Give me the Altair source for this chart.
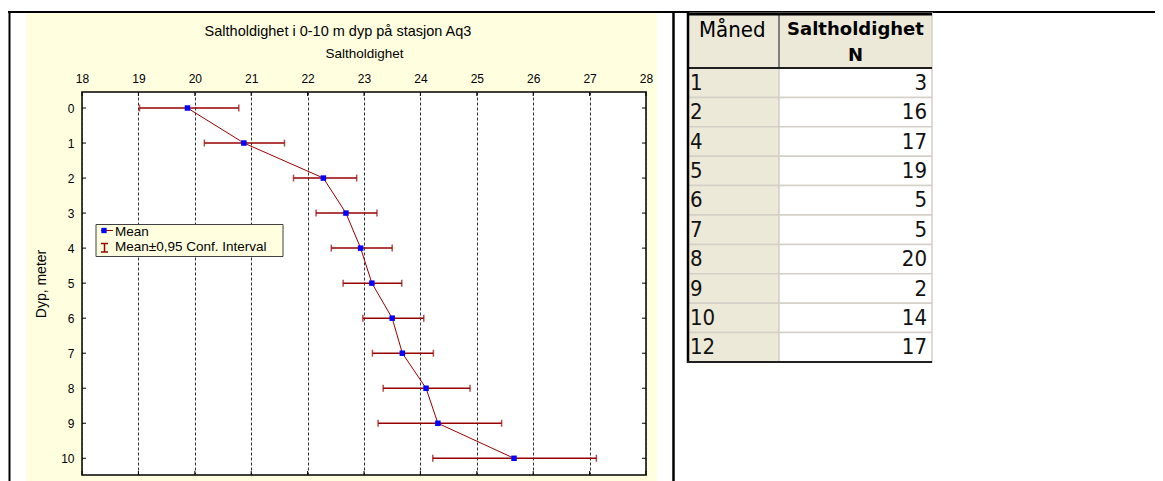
import altair as alt
import pandas as pd

# ---------------- data ----------------
depth = [0, 1, 2, 3, 4, 5, 6, 7, 8, 9, 10]
mean_salt = [19.87, 20.87, 22.28, 22.68, 22.94, 23.14, 23.50, 23.68, 24.10, 24.31, 25.66]
ci_low = [19.02, 20.17, 21.75, 22.15, 22.42, 22.63, 22.98, 23.15, 23.34, 23.25, 24.22]
ci_high = [20.78, 21.59, 22.87, 23.23, 23.50, 23.67, 24.06, 24.23, 24.88, 25.44, 27.12]
x_ticks = [18, 19, 20, 21, 22, 23, 24, 25, 26, 27, 28]
y_ticks = [0, 1, 2, 3, 4, 5, 6, 7, 8, 9, 10]
months = [1, 2, 4, 5, 6, 7, 8, 9, 10, 12]
n_obs = [3, 16, 17, 19, 5, 5, 20, 2, 14, 17]
chart_title = "Saltholdighet i 0-10 m dyp på stasjon Aq3"
x_title = "Saltholdighet"
y_title = "Dyp, meter"
legend_labels = ["Mean", "Mean±0,95 Conf. Interval"]
table_headers = ["Måned", "Saltholdighet", "N"]

# ---------------- style / layout ----------------
W, H = 564, 383
PANEL = "#FFFFE0"
RED = "#990000"
BLUE = "#0000FF"
FONT = "Liberation Sans"
TFONT = "Liberation Sans Narrow, DejaVu Sans Condensed, Liberation Sans"
BEIGE = "#ECE9D8"

df = pd.DataFrame({"depth": depth, "mean": mean_salt, "lo": ci_low, "hi": ci_high})
tab = pd.DataFrame({"month": months, "n": n_obs})
tab["r"] = range(len(tab))
tab["r1"] = tab["r"] + 1
tab["rm"] = tab["r"] + 0.5
one = pd.DataFrame({"k": [0]})


def box(x1, x2, y1, y2, fill, stroke="#000000", sw=0):
    return alt.Chart(one).mark_rect(fill=fill, stroke=stroke, strokeWidth=sw, clip=False).encode(
        x=alt.value(x1), x2=alt.value(x2), y=alt.value(y1), y2=alt.value(y2))


def hline(x1, x2, y, color, w):
    return alt.Chart(one).mark_rule(color=color, strokeWidth=w, clip=False).encode(
        x=alt.value(x1), x2=alt.value(x2), y=alt.value(y))


def vline(x, y1, y2, color, w):
    return alt.Chart(one).mark_rule(color=color, strokeWidth=w, clip=False).encode(
        x=alt.value(x), y=alt.value(y1), y2=alt.value(y2))


def label(txt, x, y, size, font=FONT, align="left", weight="normal", baseline="middle"):
    return alt.Chart(one).mark_text(text=txt, font=font, fontSize=size, align=align,
                                    baseline=baseline, fontWeight=weight, color="black",
                                    clip=False).encode(x=alt.value(x), y=alt.value(y))


xs = alt.Scale(domain=[18, 28], nice=False, zero=False)
ys = alt.Scale(domain=[-0.457, 10.477], nice=False, zero=False, reverse=True)

x_axis = alt.Axis(orient="top", values=x_ticks, tickCount=11, format="d", title=x_title,
                  grid=True, gridDash=[3, 2],
                  gridColor="#303030", gridWidth=1, gridOpacity=1, ticks=False, domain=False,
                  labelFont=FONT, labelFontSize=12, labelColor="black", labelPadding=7,
                  labelFlush=False, labelOverlap=False,
                  titleFont=FONT, titleFontSize=13.5, titleFontWeight="normal",
                  titleColor="black", titlePadding=12)
y_axis = alt.Axis(orient="left", values=y_ticks, tickCount=11, format="d", title=y_title,
                  grid=False, ticks=False,
                  domain=False, labelFont=FONT, labelFontSize=12, labelColor="black",
                  labelPadding=8, labelFlush=False, labelOverlap=False,
                  titleFont=FONT, titleFontSize=14, titleFontWeight="normal",
                  titleColor="black", titlePadding=12)


def X(field):
    return alt.X(field, type="quantitative", scale=xs, axis=x_axis)


def Y(field):
    return alt.Y(field, type="quantitative", scale=ys, axis=y_axis)


# masks (white around the light-yellow panel) and page borders
masks = [
    box(-74, 1081, -84, -79, "white"),
    box(-74, -56, -84, 395, "white"),
    box(575, 1081, -84, 395, "white"),
]
borders = [
    hline(-74, 1081, -80, "black", 2),
    vline(-72.5, -80, 395, "black", 2),
    vline(591.5, -80, 395, "black", 2.5),
]

# chart marks
ci = alt.Chart(df).mark_rule(color=RED, strokeWidth=1.5).encode(
    x=X("lo"), x2="hi:Q", y=Y("depth"))
cap_lo = alt.Chart(df).mark_tick(color=RED, orient="vertical", size=7, thickness=1.5).encode(
    x=X("lo"), y=Y("depth"))
cap_hi = alt.Chart(df).mark_tick(color=RED, orient="vertical", size=7, thickness=1.5).encode(
    x=X("hi"), y=Y("depth"))
line = alt.Chart(df).mark_line(color=RED, strokeWidth=1).encode(
    x=X("mean"), y=Y("depth"), order="depth:Q")
pts = alt.Chart(df).mark_square(color=BLUE, size=30, opacity=1).encode(
    x=X("mean"), y=Y("depth"))

ytk = pd.DataFrame({"v": y_ticks})
xtk = pd.DataFrame({"v": x_ticks})
tick_l = alt.Chart(ytk).mark_rule(color="black", strokeWidth=1).encode(
    y=Y("v"), x=alt.value(0), x2=alt.value(4))
tick_r = alt.Chart(ytk).mark_rule(color="black", strokeWidth=1).encode(
    y=Y("v"), x=alt.value(W - 4), x2=alt.value(W))
tick_t = alt.Chart(xtk).mark_rule(color="black", strokeWidth=1).encode(
    x=X("v"), y=alt.value(0), y2=alt.value(4))
tick_b = alt.Chart(xtk).mark_rule(color="black", strokeWidth=1).encode(
    x=X("v"), y=alt.value(H - 4), y2=alt.value(H))

title_mark = label(chart_title, 256, -56, 14.5, baseline="alphabetic", align="center")

# legend
legend = [
    box(14, 201, 132.5, 164.5, PANEL, stroke="#404040", sw=1),
    hline(19, 31, 138.5, RED, 1),
    alt.Chart(one).mark_square(color=BLUE, size=28, opacity=1).encode(
        x=alt.value(22), y=alt.value(138.5)),
    vline(22.5, 151.5, 160, RED, 1.5),
    hline(19, 26, 151.5, RED, 1.5),
    hline(19, 26, 160, RED, 1.5),
    label(legend_labels[0], 33, 144, 13.5, baseline="alphabetic"),
    label(legend_labels[1], 33, 159, 13.5, baseline="alphabetic"),
]

main = alt.layer(*masks, *borders, ci, cap_lo, cap_hi, line, pts,
                 tick_l, tick_r, tick_t, tick_b, title_mark, *legend)

# table
tys = alt.Scale(domain=[0, 10], range=[-24, 270], nice=False, zero=False)
cells_l = alt.Chart(tab).mark_rect(fill=BEIGE, stroke="#D4D0C8", strokeWidth=1.5).encode(
    x=alt.value(606), x2=alt.value(697),
    y=alt.Y("r:Q", scale=tys, axis=None), y2="r1:Q")
cells_r = alt.Chart(tab).mark_rect(fill="white", stroke="#D4D0C8", strokeWidth=1.5).encode(
    x=alt.value(697), x2=alt.value(850), y=alt.Y("r:Q", scale=tys, axis=None), y2="r1:Q")
txt_m = alt.Chart(tab).mark_text(font=TFONT, fontSize=22, align="left", baseline="middle",
                                 color="#111111").encode(
    x=alt.value(608), y=alt.Y("rm:Q", scale=tys, axis=None), text="month:Q")
txt_n = alt.Chart(tab).mark_text(font=TFONT, fontSize=22, align="right", baseline="middle",
                                 color="#111111").encode(
    x=alt.value(845), y=alt.Y("rm:Q", scale=tys, axis=None), text="n:Q")
table = alt.layer(
    box(606, 697, -79, -24, BEIGE, stroke="#D4D0C8", sw=1.5),
    box(697, 850, -79, -24, BEIGE, stroke="#D4D0C8", sw=1.5),
    cells_l, cells_r, txt_m, txt_n,
    label(table_headers[0], 617, -62, 22, font=TFONT),
    label(table_headers[1], 773.5, -62, 18, font="DejaVu Sans", align="center", weight="bold"),
    label(table_headers[2], 773.5, -36, 18, font="DejaVu Sans", align="center", weight="bold"),
    vline(697, -79, -24, "#808080", 2),
    hline(605, 850, -78, "black", 3),
    hline(605, 850, -24, "#202020", 2),
    vline(606, -80, 271, "black", 2.5),
    hline(605, 850, 270, "#202020", 2),
)

chart = alt.layer(main, table).resolve_scale(y="independent").properties(
    width=W, height=H,
    autosize=alt.AutoSizeParams(type="none"),
    padding={"left": 74, "top": 84, "right": 509, "bottom": 6},
    background=PANEL,
).configure_view(fill="white", stroke="black", strokeWidth=1.5)

chart.save("out.html", embed_options={"renderer": "svg", "actions": False})
